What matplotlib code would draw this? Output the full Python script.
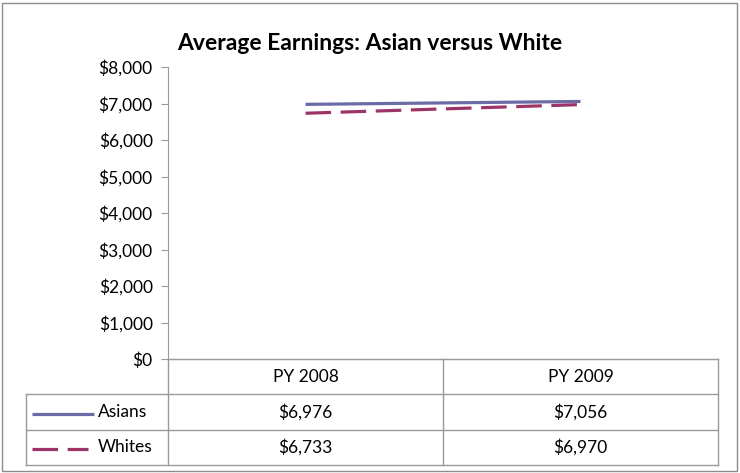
import matplotlib.pyplot as plt
from matplotlib.ticker import FuncFormatter
from matplotlib.lines import Line2D
from matplotlib.patches import Rectangle

plt.rcParams["font.family"] = ["Lato", "DejaVu Sans"]

TITLE = "Average Earnings: Asian versus White"
CATEGORIES = ["PY 2008", "PY 2009"]
SERIES_NAMES = ["Asians", "Whites"]
ASIANS = [6976, 7056]
WHITES = [6733, 6970]

COLORS = {"Asians": "#6B6BA6", "Whites": "#9C3468"}
STYLES = {"Asians": "-", "Whites": (0, (8, 3))}
GRID_COLOR = "#9A9A9A"

W, H = 740, 473


def px(x0, y0, x1, y1):
    """pixel box (top-left origin) -> figure fraction rect"""
    return [x0 / W, 1 - y1 / H, (x1 - x0) / W, (y1 - y0) / H]


def main():
    fig = plt.figure(figsize=(7.4, 4.73), dpi=100)
    fig.patches.append(Rectangle((2 / W, 2 / H), 1 - 5 / W, 1 - 5 / H,
                                 transform=fig.transFigure, fill=False,
                                 edgecolor="#8C8C8C", linewidth=1.0))

    ax = fig.add_axes(px(168, 67, 718, 359))
    xs = range(len(CATEGORIES))
    data = {"Asians": ASIANS, "Whites": WHITES}
    for name in SERIES_NAMES:
        ax.plot(xs, data[name], color=COLORS[name], linestyle=STYLES[name],
                linewidth=2.3, solid_capstyle="butt", dash_capstyle="butt")

    ax.set_xlim(-0.5, len(CATEGORIES) - 0.5)
    ax.set_ylim(0, 8000)
    ax.set_yticks(range(0, 8001, 1000))
    ax.yaxis.set_major_formatter(FuncFormatter(lambda v, p: f"${v:,.0f}"))
    ax.set_xticks([])
    for s in ["top", "right"]:
        ax.spines[s].set_visible(False)
    ax.spines["left"].set_color(GRID_COLOR)
    ax.spines["bottom"].set_color(GRID_COLOR)
    ax.tick_params(axis="y", length=5, color=GRID_COLOR, labelsize=12.5, pad=6)

    fig.text(0.5, 1 - 44 / H, TITLE, ha="center", va="center",
             fontsize=16.5, fontweight="bold")

    # data table under the axis
    unit = 550 / len(CATEGORIES)
    left_x = -0.5 - 142 / unit
    right_x = len(CATEGORIES) - 0.5
    tax = fig.add_axes(px(26, 359, 718, 465))
    tax.set_xlim(left_x, right_x)
    tax.set_ylim(3, 0)
    tax.axis("off")
    kw = dict(color=GRID_COLOR, linewidth=1.0, clip_on=False)
    tax.plot([-0.5, right_x], [0, 0], **kw)
    for r in [1, 2, 3]:
        tax.plot([left_x, right_x], [r, r], **kw)
    tax.plot([left_x, left_x], [1, 3], **kw)
    for c in range(len(CATEGORIES) + 1):
        tax.plot([c - 0.5, c - 0.5], [0, 3], **kw)

    for i, cat in enumerate(CATEGORIES):
        tax.text(i, 0.5, cat, ha="center", va="center", fontsize=12.5)
    for r, name in enumerate(SERIES_NAMES, start=1):
        for i, v in enumerate(data[name]):
            tax.text(i, r + 0.5, f"${v:,.0f}", ha="center", va="center",
                     fontsize=12.5)
        # legend key in the first column
        x0 = left_x + 6 / unit
        x1 = left_x + (68 if name == "Asians" else 62) / unit
        tax.add_line(Line2D([x0, x1], [r + 0.55, r + 0.55], color=COLORS[name],
                            linestyle=STYLES[name], linewidth=2.3,
                            solid_capstyle="butt", dash_capstyle="butt"))
        tax.text(left_x + 72 / unit, r + 0.5, name, ha="left", va="center",
                 fontsize=12.5)

    fig.savefig("out.png", dpi=100)


if __name__ == "__main__":
    main()
